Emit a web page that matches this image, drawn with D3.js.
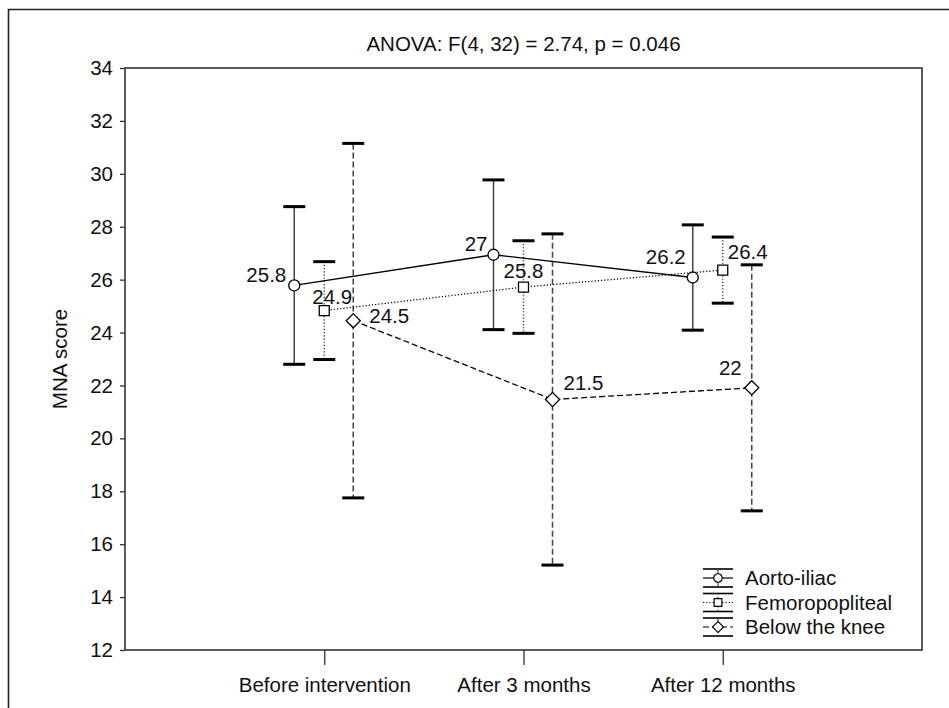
<!DOCTYPE html>
<html>
<head>
<meta charset="utf-8">
<script src="https://cdn.jsdelivr.net/npm/d3@7"></script>
<style>
  body { margin: 0; background: #fff; }
  svg { display: block; font-family: "Liberation Sans", Arial, sans-serif; }
  .axis path, .axis line { stroke: #333; }
  .axis text { font-size: 20.5px; fill: #111; }
</style>
</head>
<body>
<svg id="chart" width="949" height="708"></svg>
<script>
var categories = ['Before intervention', 'After 3 months', 'After 12 months'];
var seriesNames = ['Aorto-iliac', 'Femoropopliteal', 'Below the knee'];
var aortoMean = [25.78, 26.94, 26.08];
var aortoSd = [2.98, 2.83, 1.99];
var aortoLabels = ['25.8', '27', '26.2'];
var femoroMean = [24.83, 25.72, 26.36];
var femoroSd = [1.85, 1.75, 1.25];
var femoroLabels = ['24.9', '25.8', '26.4'];
var belowMean = [24.45, 21.47, 21.91];
var belowSd = [6.7, 6.26, 4.65];
var belowLabels = ['24.5', '21.5', '22'];
var yTicks = d3.range(12, 35, 2);
var title = 'ANOVA: F(4, 32) = 2.74, p = 0.046';
var yTitle = 'MNA score';

// layout bits (window.top is reserved, so plot* names)
var plotLeft = 125, plotRight = 922, plotTop = 68, plotBottom = 650;
var seriesShift = [-30, 0, 29];
var dashes = [null, '1.2,2', '6,3'];
// diamond = square turned 45deg, wider than d3.symbolDiamond
var symbols = [d3.symbolCircle, d3.symbolSquare, d3.symbolSquare];
var symbolRotate = [0, 0, 45];
var symbolSizes = [95, 100, 100];
// where each value label sits relative to its marker: [dx, dy, anchor]
var labelPos = [
    [[-8, -3, 'end'], [-6, -4, 'end'], [-7, -14, 'end']],
    [[-12, -7, 'start'], [-20, -9, 'start'], [5, -11, 'start']],
    [[16, 2, 'start'], [11, -9, 'start'], [-10, -13, 'end']]
];

var series = [
    { name: seriesNames[0], mean: aortoMean, sd: aortoSd, labels: aortoLabels },
    { name: seriesNames[1], mean: femoroMean, sd: femoroSd, labels: femoroLabels },
    { name: seriesNames[2], mean: belowMean, sd: belowSd, labels: belowLabels }
];

var svg = d3.select('#chart');

// outer frame (only left and top visible)
svg.append('path')
    .attr('d', 'M8.5,708V9.5H949')
    .attr('fill', 'none')
    .attr('stroke', '#222')
    .attr('stroke-width', 1.6);

var x = d3.scalePoint().domain(categories).range([plotLeft, plotRight]).padding(1);
var y = d3.scaleLinear().domain([12, 34]).range([plotBottom, plotTop]);

var yAxis = svg.append('g')
    .attr('class', 'axis')
    .attr('transform', `translate(${plotLeft},0)`)
    .call(d3.axisLeft(y).tickValues(yTicks).tickSize(5).tickPadding(7).tickFormat(d3.format('d')));
yAxis.select('.domain').remove();

var xAxis = svg.append('g')
    .attr('class', 'axis')
    .attr('transform', `translate(0,${plotBottom})`)
    .call(d3.axisBottom(x).tickSize(15).tickPadding(12));
xAxis.select('.domain').remove();

svg.selectAll('.axis line').attr('stroke-width', 1.3);

// plot box
svg.append('rect')
    .attr('x', plotLeft)
    .attr('y', plotTop)
    .attr('width', plotRight - plotLeft)
    .attr('height', plotBottom - plotTop)
    .attr('fill', 'none')
    .attr('stroke', '#333')
    .attr('stroke-width', 1.6);

svg.append('text')
    .attr('x', (plotLeft + plotRight) / 2)
    .attr('y', 51)
    .attr('text-anchor', 'middle')
    .style('font-size', '20.5px')
    .attr('fill', '#111')
    .text(title);

svg.append('text')
    .attr('transform', `translate(67,${(plotTop + plotBottom) / 2}) rotate(-90)`)
    .attr('text-anchor', 'middle')
    .style('font-size', '20.5px')
    .attr('fill', '#111')
    .text(yTitle);

var capHalf = 11;

series.forEach(function (s, si) {
    var g = svg.append('g').attr('class', 'series s' + si);
    var px = function (i) { return x(categories[i]) + seriesShift[si]; };
    var idx = d3.range(categories.length);

    // error bars
    var bars = g.selectAll('g.err').data(idx).enter().append('g').attr('class', 'err');
    bars.append('line')
        .attr('x1', px).attr('x2', px)
        .attr('y1', i => y(s.mean[i] + s.sd[i]))
        .attr('y2', i => y(s.mean[i] - s.sd[i]))
        .attr('stroke', '#444')
        .attr('stroke-width', 1.5)
        .attr('stroke-dasharray', dashes[si]);
    [1, -1].forEach(function (sign) {
        bars.append('line')
            .attr('x1', i => px(i) - capHalf).attr('x2', i => px(i) + capHalf)
            .attr('y1', i => y(s.mean[i] + sign * s.sd[i]))
            .attr('y2', i => y(s.mean[i] + sign * s.sd[i]))
            .attr('stroke', '#000')
            .attr('stroke-width', 3);
    });
});

// connecting lines drawn over the bars
series.forEach(function (s, si) {
    var line = d3.line()
        .x((d, i) => x(categories[i]) + seriesShift[si])
        .y(d => y(d));
    svg.append('path')
        .datum(s.mean)
        .attr('d', line)
        .attr('fill', 'none')
        .attr('stroke', '#000')
        .attr('stroke-width', 1.3)
        .attr('stroke-dasharray', dashes[si]);
});

series.forEach(function (s, si) {
    var idx = d3.range(categories.length);
    var px = function (i) { return x(categories[i]) + seriesShift[si]; };
    svg.selectAll('path.mk' + si).data(idx).enter().append('path')
        .attr('class', 'mk' + si)
        .attr('d', d3.symbol().type(symbols[si]).size(symbolSizes[si]))
        .attr('transform', i => `translate(${px(i)},${y(s.mean[i])}) rotate(${symbolRotate[si]})`)
        .attr('fill', '#fff')
        .attr('stroke', '#000')
        .attr('stroke-width', 1.3);

    svg.selectAll('text.lbl' + si).data(idx).enter().append('text')
        .attr('class', 'lbl' + si)
        .attr('x', i => px(i) + labelPos[si][i][0])
        .attr('y', i => y(s.mean[i]) + labelPos[si][i][1])
        .attr('text-anchor', i => labelPos[si][i][2])
        .style('font-size', '20.5px')
        .attr('fill', '#111')
        .text(i => s.labels[i]);
});

// legend, bottom right inside the plot
var legend = svg.append('g').attr('transform', 'translate(718,578)');
var rowGap = 24.5;
series.forEach(function (s, si) {
    var row = legend.append('g').attr('transform', `translate(0,${si * rowGap})`);
    [-9, 9].forEach(function (cy) {
        row.append('line')
            .attr('x1', -15).attr('x2', 15)
            .attr('y1', cy).attr('y2', cy)
            .attr('stroke', '#000').attr('stroke-width', 1.6);
    });
    row.append('line')
        .attr('x1', 0).attr('x2', 0).attr('y1', -9).attr('y2', 9)
        .attr('stroke', '#444').attr('stroke-width', 1.2)
        .attr('stroke-dasharray', dashes[si]);
    row.append('line')
        .attr('x1', -15).attr('x2', 15).attr('y1', 0).attr('y2', 0)
        .attr('stroke', '#000').attr('stroke-width', 1.2)
        .attr('stroke-dasharray', dashes[si]);
    row.append('path')
        .attr('d', d3.symbol().type(symbols[si]).size(symbolSizes[si] * 0.6))
        .attr('transform', `rotate(${symbolRotate[si]})`)
        .attr('fill', '#fff').attr('stroke', '#000').attr('stroke-width', 1.2);
    row.append('text')
        .attr('x', 27)
        .attr('dy', '0.35em')
        .style('font-size', '20.5px')
        .attr('fill', '#111')
        .text(s.name);
});
</script>
</body>
</html>
